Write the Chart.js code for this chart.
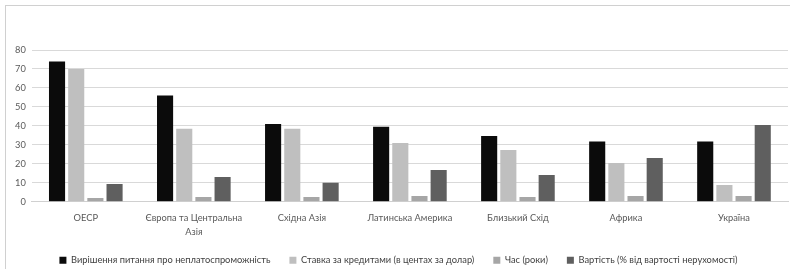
<!DOCTYPE html>
<html>
    <head>
        <title>Неплатоспроможність</title>
        <script src="https://cdnjs.cloudflare.com/ajax/libs/Chart.js/4.4.1/chart.umd.min.js"></script>
        <style>
            body { margin: 0; background: #fff; }
            #wrap { position: relative; width: 790px; height: 269px; overflow: hidden; }
            #frame { position: absolute; left: 5px; top: 5px; width: 800px; height: 300px;
                     border-left: 1px solid #d0d0d0; border-top: 1px solid #d0d0d0; }
            #chartCanvas { position: absolute; left: 0; top: 0; }
        </style>
    </head>
    <body>
        <div id="wrap">
            <div id="frame"></div>
            <canvas id="chartCanvas" width="790" height="269"></canvas>
        </div>
        <script type="text/javascript">
            // regions on the x axis
            const regions = ['ОЕСР', ['Європа та Центральна', 'Азія'], 'Східна Азія', 'Латинська Америка', 'Близький Схід', 'Африка', 'Україна'];

            // series
            const resolution = [74, 56, 41, 39.5, 34.7, 31.7, 31.7];
            const recoveryRate = [70, 38.5, 38.5, 31, 27.3, 20.4, 8.8];
            const timeYears = [2, 2.5, 2.5, 3, 2.5, 3, 3];
            const costPercent = [9.3, 13, 10, 16.7, 14.1, 23, 40.5];

            const seriesNames = ['Вирішення питання про неплатоспроможність', 'Ставка за кредитами (в центах за долар)', 'Час (роки)', 'Вартість (% від вартості нерухомості)'];
            const yTicks = [0, 10, 20, 30, 40, 50, 60, 70, 80];

            const font = { family: 'Lato', size: 9.3 };

            // pulls the legend up a little so it sits closer to the axis labels
            const legendNudge = {
                id: 'legendNudge',
                afterLayout: chart => {
                    chart.legend.top -= 8;
                    chart.legend.bottom -= 8;
                }
            };

            const data = {
                labels: regions,
                datasets: [
                    { label: seriesNames[0], data: resolution, backgroundColor: '#0b0b0b' },
                    { label: seriesNames[1], data: recoveryRate, backgroundColor: '#bfbfbf' },
                    { label: seriesNames[2], data: timeYears, backgroundColor: '#a6a6a6' },
                    { label: seriesNames[3], data: costPercent, backgroundColor: '#5f5f5f' }
                ]
            };

            const config = {
                type: 'bar',
                data: data,
                plugins: [legendNudge],
                options: {
                    responsive: false,
                    animation: false,
                    datasets: { bar: { categoryPercentage: 0.71, barPercentage: 0.84 } },
                    layout: { padding: { top: 50, left: 9, right: 2, bottom: -14 } },
                    plugins: {
                        tooltip: { enabled: false },
                        legend: {
                            position: 'bottom',
                            labels: { boxWidth: 7, boxHeight: 7, padding: 19, color: '#404040', font: font }
                        }
                    },
                    scales: {
                        x: {
                            grid: { display: false },
                            border: { color: '#d0d0d0' },
                            ticks: { color: '#595959', font: { family: 'Lato', size: 9.3, lineHeight: 1.5 }, maxRotation: 0, padding: 1 },
                            afterFit: scale => { scale.height = 43; }
                        },
                        y: {
                            min: 0,
                            max: 80,
                            afterBuildTicks: axis => { axis.ticks = yTicks.map(v => ({ value: v })); },
                            grid: { color: '#d9d9d9', drawTicks: false },
                            border: { display: false },
                            ticks: { color: '#595959', font: font, padding: 6 }
                        }
                    }
                }
            };

            new Chart(document.getElementById('chartCanvas').getContext('2d'), config);
        </script>
    </body>
</html>
